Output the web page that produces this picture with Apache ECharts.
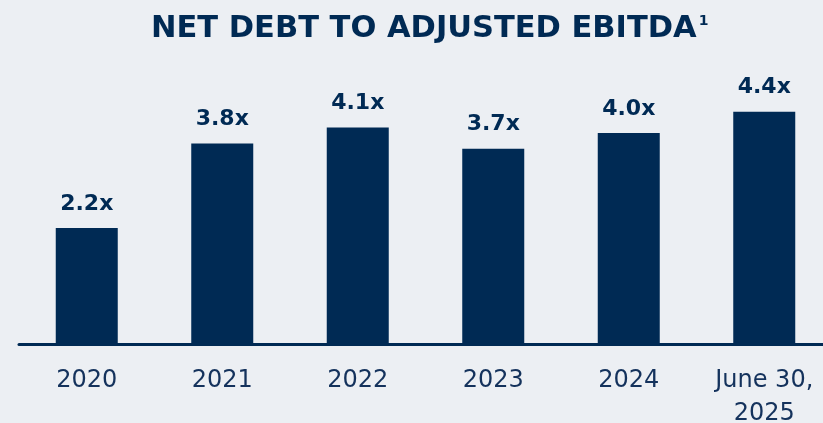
<!DOCTYPE html>
<html>
<head>
<meta charset="utf-8">
<script src="https://cdn.jsdelivr.net/npm/echarts@6/dist/echarts.min.js"></script>
<style>
  html, body { margin: 0; padding: 0; background: #eceff3; }
  #chart { width: 823px; height: 423px; }
</style>
</head>
<body>
<div id="chart"></div>
<script>
// chart data
var categories = ["2020", "2021", "2022", "2023", "2024", "June 30,\n2025"]
var leverage = [2.2, 3.8, 4.1, 3.7, 4.0, 4.4]

var navy = '#002a54'
var chart = echarts.init(document.getElementById('chart'), null, {renderer: 'canvas'})

var option = {
    backgroundColor: '#eceff3',
    textStyle: {fontFamily: 'DejaVu Sans'},
    title: {
        text: '{t|NET DEBT TO ADJUSTED EBITDA}{s|1}',
        left: 151,
        top: 11,
        padding: 0,
        textStyle: {
            rich: {
                t: {fontFamily: 'DejaVu Sans', fontWeight: 'bold', fontSize: 30.5, lineHeight: 36, color: navy},
                s: {fontFamily: 'DejaVu Sans', fontWeight: 'bold', fontSize: 14, color: navy, verticalAlign: 'top', padding: [3, 0, 0, 2]}
            }
        }
    },
    grid: {left: 19, width: 813, top: 80, bottom: 78.5, outerBoundsMode: 'none'},
    xAxis: {
        type: 'category',
        data: categories,
        axisLine: {lineStyle: {color: navy, width: 3}},
        axisTick: {show: false},
        axisLabel: {
            color: '#14325c',
            fontSize: 24,
            lineHeight: 33,
            margin: 20,
            interval: 0
        }
    },
    yAxis: {
        type: 'value',
        min: 0,
        max: 5,
        show: false
    },
    series: [{
        type: 'bar',
        data: leverage,
        barWidth: 62,
        itemStyle: {color: navy},
        label: {
            show: true,
            position: 'top',
            distance: 13,
            color: navy,
            fontSize: 22,
            fontWeight: 'bold',
            formatter: function (p) { return p.value.toFixed(1) + 'x' }
        }
    }]
}

chart.setOption(option)
</script>
</body>
</html>
